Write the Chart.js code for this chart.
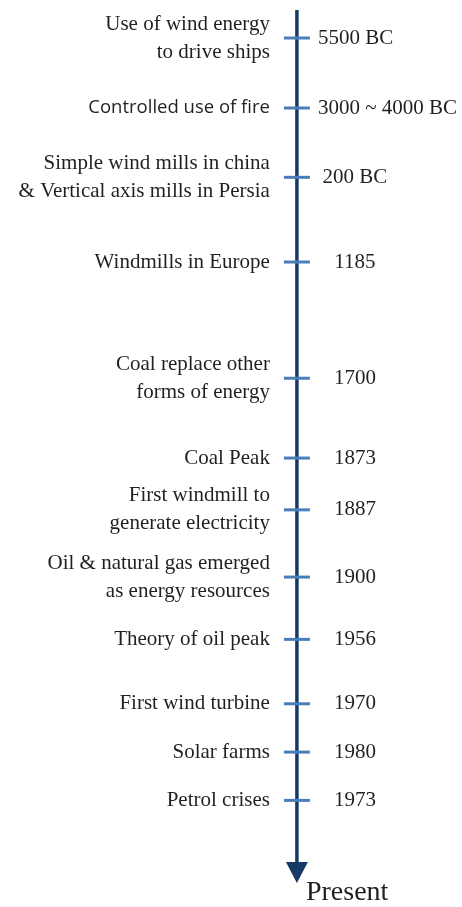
<!DOCTYPE html>
<html>
<head>
<meta charset="utf-8">
<script src="https://cdn.jsdelivr.net/npm/chart.js@4"></script>
<style>
  html, body { margin: 0; padding: 0; background: #fff; }
  canvas { display: block; }
</style>
</head>
<body>
<canvas id="c" width="462" height="907"></canvas>
<script>
// Timeline events (top to bottom)
const events = [
  ["Use of wind energy", "to drive ships"],
  ["Controlled use of fire"],
  ["Simple wind mills in china", "& Vertical axis mills in Persia"],
  ["Windmills in Europe"],
  ["Coal replace other", "forms of energy"],
  ["Coal Peak"],
  ["First windmill to", "generate electricity"],
  ["Oil & natural gas emerged", "as energy resources"],
  ["Theory of oil peak"],
  ["First wind turbine"],
  ["Solar farms"],
  ["Petrol crises"]
];
const dates = ["5500 BC", "3000 ~ 4000 BC", "200 BC", "1185", "1700", "1873", "1887", "1900", "1956", "1970", "1980", "1973"];
// position of each event along the timeline (arbitrary slot units)
const slots = [0, 1.0, 1.99, 3.2, 4.86, 6.0, 6.74, 7.7, 8.59, 9.51, 10.2, 10.89];
// which labels use sans-serif type
const sansLabels = [false, true, false, false, false, false, false, false, false, false, false, false];
const axisStart = -0.4;
const axisEnd = 12.07;
const endLabel = "Present";

const lineColor = "#163a66";
const tickColor = "#4a7ebb";
const textColor = "#231f20";

const labelPlugin = {
  id: "timelineLabels",
  afterDatasetsDraw(chart) {
    const ctx = chart.ctx;
    const xs = chart.scales.x, ys = chart.scales.y;
    const ax = xs.getPixelForValue(0);
    ctx.save();
    // arrow head
    const tipY = ys.getPixelForValue(axisEnd);
    ctx.fillStyle = lineColor;
    ctx.beginPath();
    ctx.moveTo(ax - 11, tipY - 21);
    ctx.lineTo(ax + 11, tipY - 21);
    ctx.lineTo(ax, tipY);
    ctx.closePath();
    ctx.fill();

    ctx.fillStyle = textColor;
    ctx.textBaseline = "middle";
    const lh = 28;
    events.forEach((lines, i) => {
      const y = ys.getPixelForValue(slots[i]);
      ctx.textAlign = "right";
      ctx.font = sansLabels[i] ? "18.5px 'Open Sans', 'Liberation Sans', sans-serif" : "21px 'Liberation Serif', 'Times New Roman', serif";
      const y0 = y - (lines.length - 1) * lh / 2;
      lines.forEach((t, k) => ctx.fillText(t, ax - 27, y0 + k * lh));
      // date
      ctx.font = "21px 'Liberation Serif', 'Times New Roman', serif";
      const w = ctx.measureText(dates[i]).width;
      const cx = ax + 58;
      const left = Math.max(ax + 21, cx - w / 2);
      ctx.textAlign = "left";
      ctx.fillText(dates[i], left, y);
    });
    ctx.font = "28px 'Liberation Serif', 'Times New Roman', serif";
    ctx.textAlign = "left";
    ctx.fillText(endLabel, ax + 9, tipY + 10);
    ctx.restore();
  }
};

new Chart(document.getElementById("c"), {
  type: "scatter",
  data: {
    datasets: [
      {
        type: "line",
        data: [{ x: 0, y: axisStart }, { x: 0, y: axisEnd - 0.25 }],
        borderColor: lineColor,
        borderWidth: 3.5,
        pointRadius: 0,
        clip: false,
        order: 2
      },
      {
        data: slots.map(s => ({ x: 0, y: s })),
        pointStyle: "line",
        pointRadius: 13,
        borderColor: tickColor,
        backgroundColor: tickColor,
        borderWidth: 3,
        clip: false,
        order: 1
      }
    ]
  },
  options: {
    responsive: false,
    animation: false,
    devicePixelRatio: 1,
    layout: { autoPadding: false, padding: { top: 10, bottom: 24, left: 0, right: 0 } },
    plugins: { legend: { display: false }, tooltip: { enabled: false } },
    scales: {
      x: { type: "linear", min: -1, max: 0.556, display: false },
      y: { type: "linear", min: axisStart, max: axisEnd, reverse: true, display: false }
    }
  },
  plugins: [labelPlugin]
});
</script>
</body>
</html>
